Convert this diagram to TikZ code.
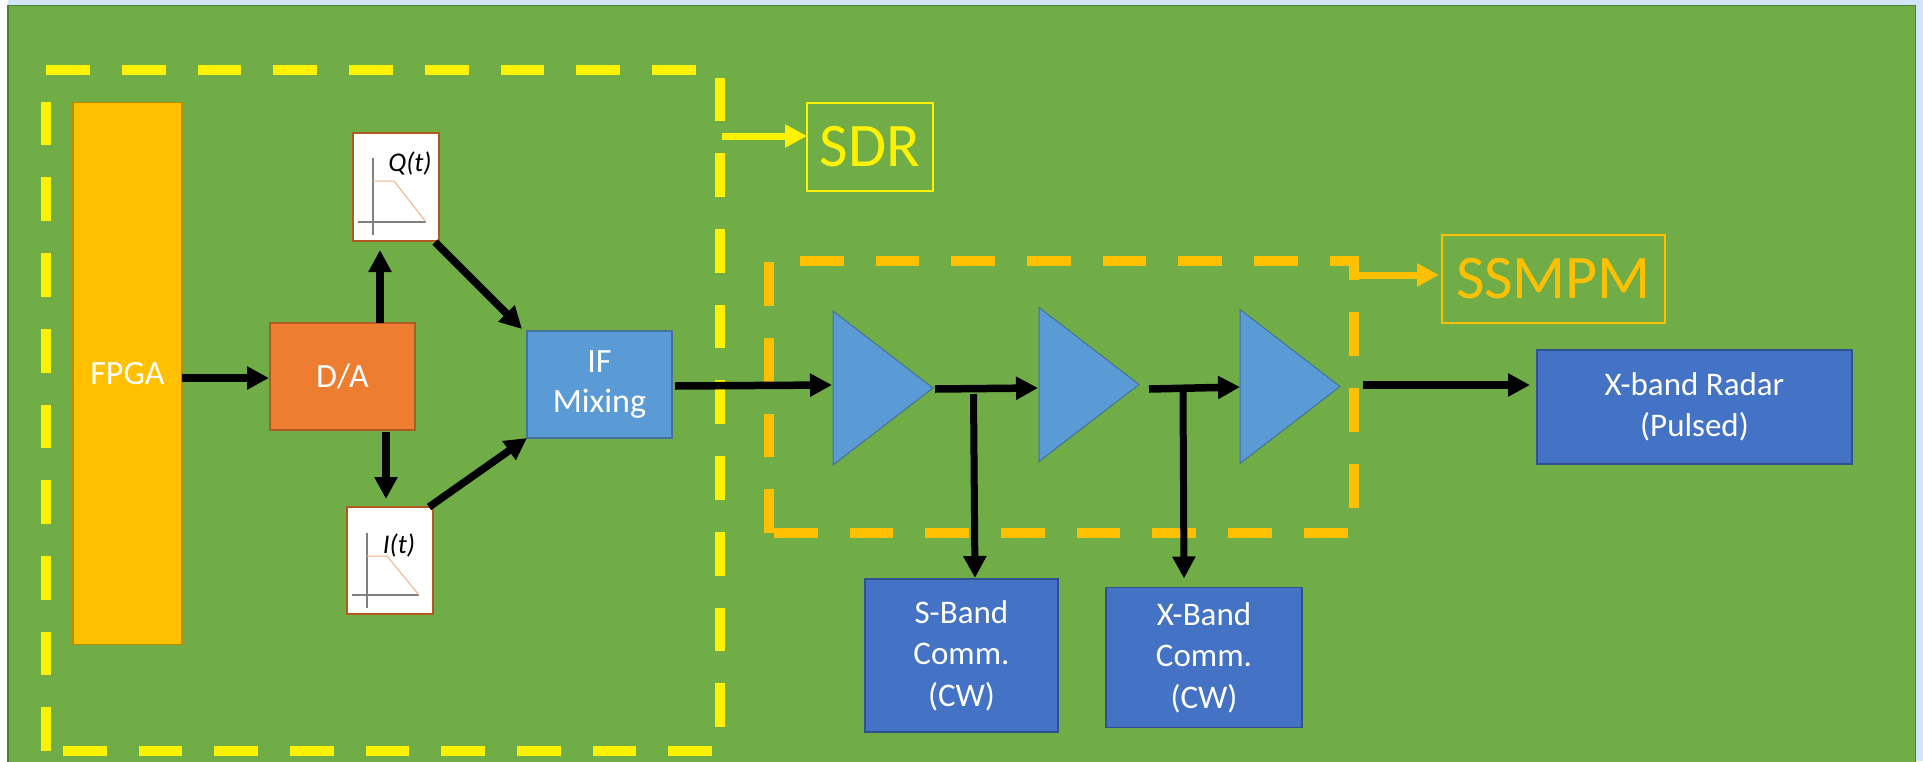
\documentclass[tikz,border=0pt]{standalone}
\usepackage{fontspec}
\setmainfont{Carlito}
\usepackage{tikz}
\usetikzlibrary{arrows.meta,shapes.geometric}
\definecolor{panelgreen}{HTML}{70AD47}
\definecolor{paneledge}{HTML}{507E32}
\definecolor{skystrip}{HTML}{D2E4F7}
\definecolor{fpgagold}{HTML}{FFC000}
\definecolor{fpgaedge}{HTML}{BC8C00}
\definecolor{daorange}{HTML}{ED7D31}
\definecolor{daedge}{HTML}{AE5A21}
\definecolor{ifblue}{HTML}{5B9BD5}
\definecolor{ifedge}{HTML}{41719C}
\definecolor{bandblue}{HTML}{4472C4}
\definecolor{bandedge}{HTML}{2F528F}
\definecolor{pulseline}{HTML}{F4B183}
\begin{document}
\begin{tikzpicture}[x=1pt,y=-1pt]
  \tikzset{block/.style={draw,line width=1.5pt,inner sep=0pt,outer sep=0pt,align=center,text=white,font=\fontsize{34}{40}\selectfont},
           bandblock/.style={block,fill=bandblue,draw=bandedge,font=\fontsize{33}{41.5}\selectfont},
           plotbox/.style={draw=daedge,fill=white,line width=1.5pt,inner sep=0pt,outer sep=0pt},
           amp/.style={isosceles triangle,isosceles triangle stretches,shape border rotate=0,draw=ifedge,fill=ifblue,line width=1pt,inner sep=0pt,outer sep=0pt,minimum width=154pt,minimum height=100pt,anchor=lower side},
           tagbox/.style={draw=#1,text=#1,line width=1.5pt,inner sep=0pt,outer sep=0pt,font=\fontsize{62}{70}\selectfont},
           groupline/.style={draw=#1,line width=10.5pt,dash pattern=on 43.7pt off 32pt},
           sigarrow/.style={line width=7.5pt,-{Triangle[length=22pt,width=22pt]}},
           tagarrow/.style={draw=#1,line width=7pt,-{Triangle[length=22pt,width=22pt]}},
           axisline/.style={draw=gray,line width=1.5pt},
           pulsecurve/.style={draw=pulseline,line width=1pt}}
  \useasboundingbox (0,0) rectangle (1923,761);
  \fill[white] (0,0) rectangle (1923,761);
  \fill[skystrip] (8,0) rectangle (1923,761);
  \draw[draw=paneledge,fill=panelgreen,line width=1.5pt] (8,5.5) rectangle (1915.5,770);

  \draw[groupline=yellow] (46,751) -- (46,70) -- (720,70) -- (720,751) -- cycle;
  \draw[groupline=fpgagold] (769,533) -- (769,261) -- (1354,261) -- (1354,533) -- cycle;

  \node[block,fill=fpgagold,draw=fpgaedge,minimum width=109pt,minimum height=542pt] (fpga) at (127.5,373.5) {FPGA};
  \node[block,fill=daorange,draw=daedge,minimum width=145pt,minimum height=107pt] (da) at (342.5,376.5) {D/A};
  \node[block,fill=ifblue,draw=ifedge,minimum width=145pt,minimum height=107pt] (ifmix) at (599.5,384.5) {\raisebox{-5pt}{IF}\\\raisebox{-5pt}{Mixing}};
  \node[plotbox,minimum width=86pt,minimum height=108pt] (qbox) at (396,187) {};
  \node[plotbox,minimum width=86pt,minimum height=107pt] (ibox) at (390,560.5) {};
  \node[font=\fontsize{27}{30}\selectfont\itshape,inner sep=0pt] (qlabel) at (410,163) {Q(t)};
  \node[font=\fontsize{27}{30}\selectfont\itshape,inner sep=0pt] (ilabel) at (399,545) {I(t)};

  \draw[axisline] (373,158) -- (373,235);
  \draw[axisline] (358,222) -- (426,222);
  \draw[pulsecurve] (373,181) -- (394,181) -- (426,222);
  \draw[axisline] (367,533) -- (367,608);
  \draw[axisline] (352,595) -- (419,595);
  \draw[pulsecurve] (367,556) -- (387,556) -- (419,595);

  \node[amp] (ampa) at (833,388) {};
  \node[amp] (ampb) at (1039,384.5) {};
  \node[amp] (ampc) at (1240,386.5) {};

  \node[bandblock,minimum width=193pt,minimum height=153pt] (sband) at (961.5,655.5) {S-Band\\Comm.\\(CW)};
  \node[bandblock,minimum width=196pt,minimum height=140pt] (xband) at (1204,657.5) {X-Band\\Comm.\\(CW)};
  \node[bandblock,minimum width=315pt,minimum height=114pt] (radar) at (1694.5,407) {X-band Radar\\(Pulsed)};

  \node[tagbox=yellow,minimum width=126pt,minimum height=88pt] (sdr) at (870,147) {SDR};
  \node[tagbox=fpgagold,minimum width=223pt,minimum height=88pt] (ssmpm) at (1553.5,279) {SSMPM};

  \coordinate (sdrtap) at (722,136);
  \coordinate (ssmpmtap) at (1354,275);
  \coordinate (sbranch) at (973.5,394);
  \coordinate (xbranch) at (1183,391);

  \draw[sigarrow] ([yshift=-4.5pt]fpga.east) -- ([xshift=-1pt,yshift=-1.5pt]da.west);
  \draw[sigarrow] ([xshift=37.5pt]da.north) -- ([xshift=-16pt,yshift=-9pt]qbox.south);
  \draw[sigarrow] ([xshift=-4pt,yshift=-1pt]qbox.south east) -- ([xshift=-5pt,yshift=2pt]ifmix.north west);
  \draw[sigarrow] ([xshift=43.5pt,yshift=-2pt]da.south) -- ([xshift=-4pt,yshift=8pt]ibox.north);
  \draw[sigarrow] ([xshift=-4pt]ibox.north east) -- (ifmix.south west);
  \draw[sigarrow] ([xshift=3pt,yshift=-1.5pt]ifmix.east) -- ([xshift=-1pt,yshift=3pt]ampa.lower side);
  \draw[sigarrow] ([xshift=2pt,yshift=-1pt]ampa.apex) -- ([xshift=-1pt,yshift=-3.5pt]ampb.lower side);
  \draw[sigarrow] ([xshift=10pt,yshift=-4.5pt]ampb.apex) -- ([yshift=-.5pt]ampc.lower side);
  \draw[sigarrow] ([xshift=23pt,yshift=1.5pt]ampc.apex) -- ([xshift=-7pt,yshift=22pt]radar.west);
  \draw[sigarrow,line width=7pt] (sbranch) -- ([xshift=13.5pt,yshift=1pt]sband.north);
  \draw[sigarrow,line width=7pt] (xbranch) -- ([xshift=-20pt,yshift=9pt]xband.north);
  \draw[tagarrow=yellow] (sdrtap) -- ([yshift=11pt]sdr.west);
  \draw[tagarrow=fpgagold] (ssmpmtap) -- ([xshift=-3pt,yshift=4pt]ssmpm.west);
\end{tikzpicture}
\end{document}
